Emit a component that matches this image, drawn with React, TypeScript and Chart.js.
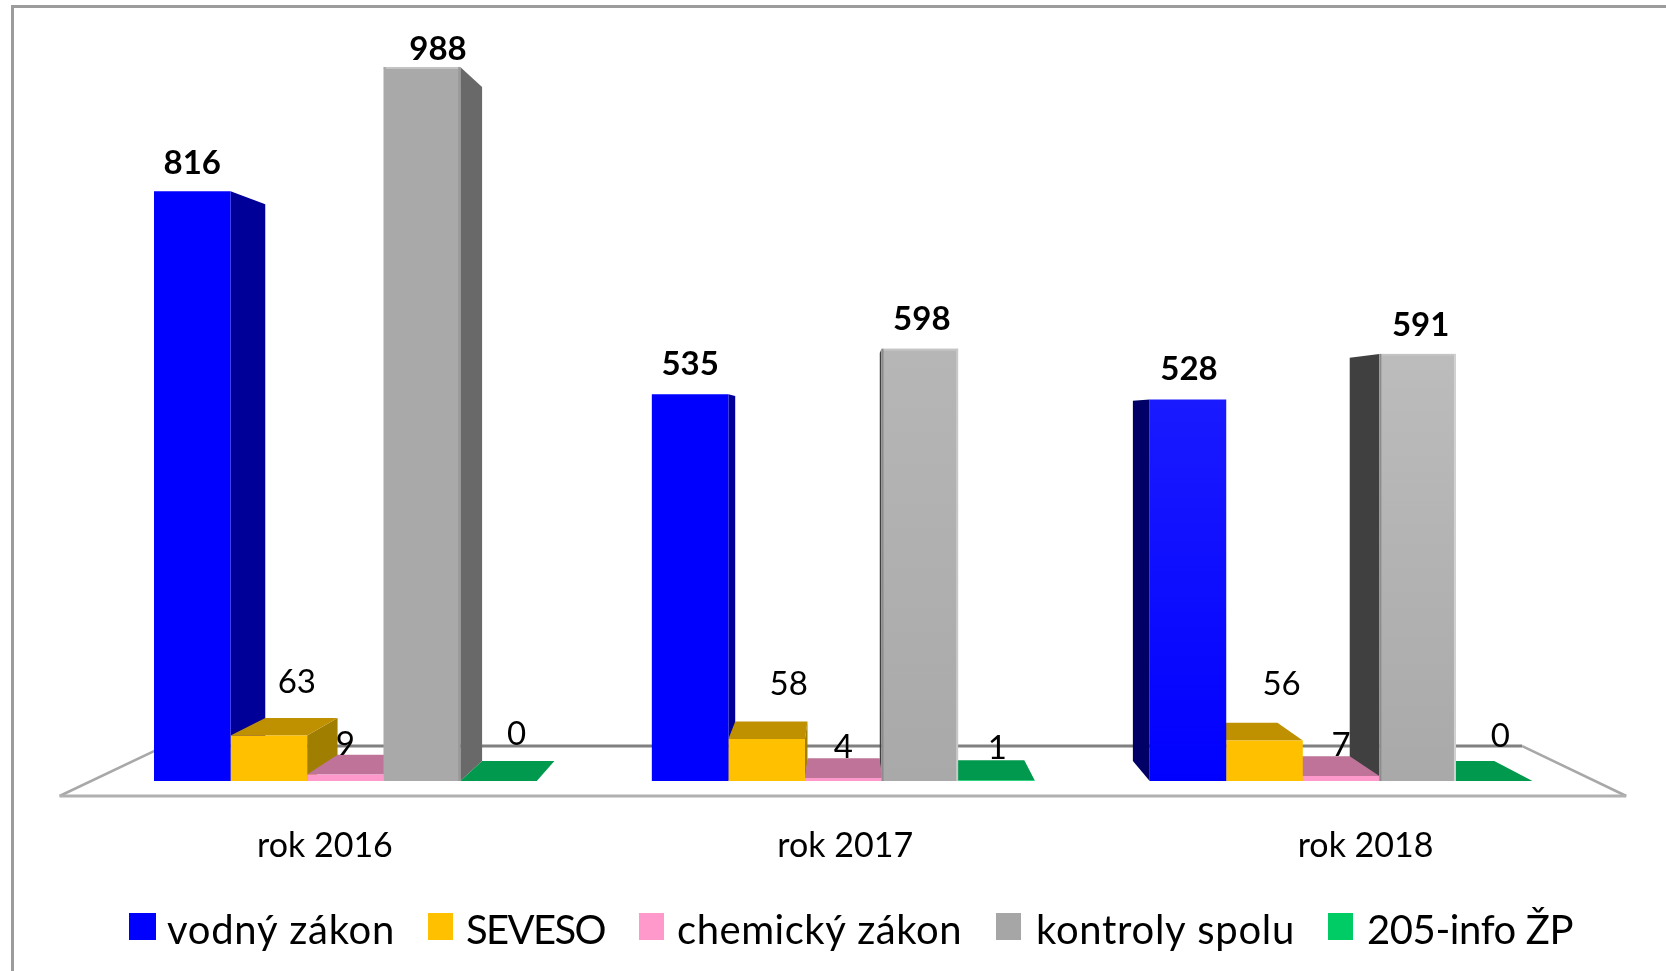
import React, { useEffect, useRef } from "react";
import { Chart, registerables } from "chart.js";

Chart.register(...registerables);

const categories = ["rok 2016", "rok 2017", "rok 2018"];
const vodnyZakon = [816, 535, 528];
const seveso = [63, 58, 56];
const chemickyZakon = [9, 4, 7];
const kontrolySpolu = [988, 598, 591];
const info205 = [0, 1, 0];

const seriesNames = ["vodný zákon", "SEVESO", "chemický zákon", "kontroly spolu", "205-info ŽP"];
const legendColors = ["#0000ff", "#ffc000", "#ff99cc", "#a6a6a6", "#00cc66"];
const frontColors = ["#0000ff", "#ffc000", "#ff99cc", "#a9a9a9", "#00cc66"];
const topColors = ["#000099", "#bf9000", "#bf7399", "#bdbdbd", "#00994d"];
const sideColorsRight = ["#000099", "#a07f00", "#bf7399", "#696969", "#00994d"];
const sideColorsLeft = ["#000066", "#a07f00", "#bf7399", "#404040", "#00994d"];
const boldSeries = [true, false, false, true, false];
const blueShade = ["#0000ff", "#0000ff", "#1a1aff"];
const grayShade = ["#a9a9a9", "#b6b6b6", "#bcbcbc"];
const grayEdgeRight = ["#999999", "#c8c8c8", "#d2d2d2"];
const grayEdgeLeft = ["#a9a9a9", "#8c8c8c", "#8c8c8c"];

// label nudges relative to the front face of each bar [series][category]
const labelNudgeX = [
  [0, 0, 1],
  [28, 22, 17],
  [0, 0, 0],
  [16, 2, 3],
  [18, 1, 6],
];
const labelNudgeY = [
  [-28, -30, -30],
  [-53, -55, -56],
  [-30, -31, -31],
  [-18, -29, -29],
  [-47, -32, -45],
];

// legend layout
const legendBoxX = [129, 428, 639, 996, 1328];
const legendBoxW = [27, 25, 25, 25, 25];
const legendTextX = [167, 466, 677, 1036, 1367];
const legendTextW = [228, 139, 285, 259, 206];

// projection of the 3-D box: vanishing point and depth
const VANISH_X = 850;
const VANISH_Y = 424;
const DEPTH = 0.056;
const FLOOR_SCALE = 1.049;
const LABEL_SCALE = 1.0452;
const LABEL_PIVOT = 843;
const LABEL_CENTER = 845;

const FONT = "Lato, Carlito, Calibri, sans-serif";

const back = (x: number, y: number): [number, number] => [
  x + DEPTH * (VANISH_X - x),
  y + DEPTH * (VANISH_Y - y),
];

function poly(ctx: CanvasRenderingContext2D, pts: [number, number][], fill: string) {
  ctx.beginPath();
  pts.forEach((p, i) => (i ? ctx.lineTo(p[0], p[1]) : ctx.moveTo(p[0], p[1])));
  ctx.closePath();
  ctx.fillStyle = fill;
  ctx.fill();
}

const box3d = {
  id: "box3d",
  beforeDatasetsDraw(chart: any) {
    const { ctx, chartArea } = chart;
    const base = chartArea.bottom;
    const floorBack = back(chartArea.left, base)[1] - 15;
    const floorFront = base + 15;
    const fl = VANISH_X + (chartArea.left - VANISH_X) * FLOOR_SCALE;
    const fr = VANISH_X + (chartArea.right - VANISH_X) * FLOOR_SCALE;
    const bl = fl + (floorFront - floorBack) * 2.1;
    const br = fr - (floorFront - floorBack) * 2.08;

    ctx.save();
    ctx.lineCap = "butt";
    ctx.strokeStyle = "#808080";
    ctx.lineWidth = 3;
    ctx.beginPath();
    ctx.moveTo(bl, floorBack);
    ctx.lineTo(br, floorBack);
    ctx.stroke();
    ctx.strokeStyle = "#a8a8a8";
    ctx.lineWidth = 2.5;
    ctx.beginPath();
    ctx.moveTo(bl, floorBack);
    ctx.lineTo(fl, floorFront);
    ctx.moveTo(br, floorBack);
    ctx.lineTo(fr, floorFront);
    ctx.stroke();
    ctx.strokeStyle = "#b0b0b0";
    ctx.lineWidth = 3;
    ctx.beginPath();
    ctx.moveTo(fl, floorFront);
    ctx.lineTo(fr, floorFront);
    ctx.stroke();

    // painter's order: furthest from the vanishing column first
    const faces: any[] = [];
    chart.data.datasets.forEach((_: any, s: number) => {
      chart.getDatasetMeta(s).data.forEach((bar: any) => {
        const w = bar.width;
        const l = bar.x - w / 2;
        const r = bar.x + w / 2;
        const dist = l > VANISH_X ? l - VANISH_X : r < VANISH_X ? VANISH_X - r : 0;
        faces.push({ s, l, r, y: bar.y, dist });
      });
    });
    faces.sort((a, b) => b.dist - a.dist);
    faces.forEach(({ s, l, r, y }) => {
      const bottom = base;
      if (r < VANISH_X) {
        poly(ctx, [[r, y], back(r, y), back(r, bottom), [r, bottom]], sideColorsRight[s]);
      }
      if (l > VANISH_X) {
        poly(ctx, [[l, y], back(l, y), back(l, bottom), [l, bottom]], sideColorsLeft[s]);
      }
      if (y > VANISH_Y) {
        poly(ctx, [[l, y], [r, y], back(r, y), back(l, y)], topColors[s]);
      }
    });
    ctx.restore();
  },
  afterDatasetsDraw(chart: any) {
    const { ctx, chartArea } = chart;
    ctx.save();

    // bevel edges of the grey columns
    chart.getDatasetMeta(3).data.forEach((bar: any, c: number) => {
      const l = bar.x - bar.width / 2;
      const r = bar.x + bar.width / 2;
      ctx.fillStyle = "#c4c4c4";
      ctx.fillRect(l, bar.y, r - l, 2);
      ctx.fillStyle = grayEdgeRight[c];
      ctx.fillRect(r - 2, bar.y, 2, chartArea.bottom - bar.y);
      ctx.fillStyle = grayEdgeLeft[c];
      ctx.fillRect(l, bar.y, 2, chartArea.bottom - bar.y);
    });

    ctx.textAlign = "center";
    ctx.textBaseline = "middle";
    ctx.fillStyle = "#000000";

    // value labels
    chart.data.datasets.forEach((ds: any, s: number) => {
      ctx.font = `${boldSeries[s] ? "bold " : ""}33px ${FONT}`;
      chart.getDatasetMeta(s).data.forEach((bar: any, c: number) => {
        ctx.fillText(String(ds.data[c]), bar.x + labelNudgeX[s][c], bar.y + labelNudgeY[s][c]);
      });
    });

    // category labels, on the projected front edge of the floor
    ctx.font = `34px ${FONT}`;
    const xScale = chart.scales.x;
    chart.data.labels.forEach((lab: string, i: number) => {
      const px = xScale.getPixelForValue(i);
      ctx.fillText(lab, LABEL_CENTER + (px - LABEL_PIVOT) * LABEL_SCALE, chartArea.bottom + 65);
    });

    // legend
    ctx.textAlign = "left";
    ctx.font = `40px ${FONT}`;
    chart.data.datasets.forEach((ds: any, s: number) => {
      ctx.fillStyle = legendColors[s];
      ctx.fillRect(legendBoxX[s], 913, legendBoxW[s], 27);
      ctx.fillStyle = "#000000";
      (ctx as any).letterSpacing = "0px";
      const natural = ctx.measureText(ds.label).width;
      (ctx as any).letterSpacing = `${(legendTextW[s] - natural) / ds.label.length}px`;
      ctx.fillText(ds.label, legendTextX[s], 931);
    });
    (ctx as any).letterSpacing = "0px";

    // outer frame
    ctx.strokeStyle = "#9c9c9c";
    ctx.lineWidth = 3;
    ctx.beginPath();
    ctx.moveTo(12.5, 971);
    ctx.lineTo(12.5, 6.5);
    ctx.lineTo(1666, 6.5);
    ctx.stroke();
    ctx.restore();
  },
};

export default function App() {
  const ref = useRef<HTMLCanvasElement>(null);
  useEffect(() => {
    document.body.style.margin = "0";
    const canvas = ref.current!;
    const ctx = canvas.getContext("2d")!;
    const allSeries = [vodnyZakon, seveso, chemickyZakon, kontrolySpolu, info205];
    const shaded = (shade: string[], end: string) => (c: any) => {
      const area = c.chart.chartArea;
      if (!area) return end;
      const el = c.chart.scales.y.getPixelForValue(c.raw);
      const g = c.chart.ctx.createLinearGradient(0, el, 0, area.bottom);
      g.addColorStop(0, shade[c.dataIndex]);
      g.addColorStop(1, end);
      return g;
    };
    const chart = new Chart(ctx, {
      type: "bar",
      data: {
        labels: categories,
        datasets: allSeries.map((data, s) => ({
          label: seriesNames[s],
          data,
          backgroundColor:
            s === 0 ? shaded(blueShade, frontColors[0]) : s === 3 ? shaded(grayShade, frontColors[3]) : frontColors[s],
          borderWidth: 0,
        })),
      },
      options: {
        responsive: false,
        animation: false,
        layout: { padding: { left: 96.5, right: 76, top: 58.3, bottom: 190 } },
        datasets: { bar: { categoryPercentage: 0.769, barPercentage: 1 } },
        plugins: { legend: { display: false }, tooltip: { enabled: false }, title: { display: false } },
        scales: {
          x: { display: false },
          y: { display: false, min: 0, max: 1000 },
        },
      },
      plugins: [box3d],
    });
    return () => chart.destroy();
  }, []);
  return (
    <div style={{ width: 1666, height: 971, background: "#fff" }}>
      <canvas ref={ref} width={1666} height={971} style={{ display: "block" }} />
    </div>
  );
}
